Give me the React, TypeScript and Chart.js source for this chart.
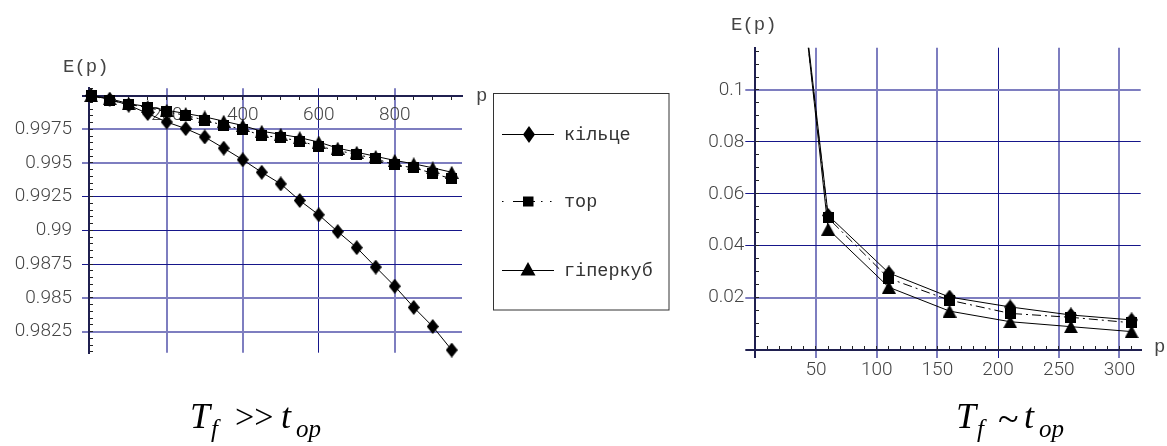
import React, { useEffect, useRef } from "react";
import { Chart, registerables } from "chart.js";
Chart.register(...registerables);

// ---------- data ----------
const SERIES_NAMES = ["кільце", "тор", "гіперкуб"];

// left chart: T_f >> t_op
const LEFT_P = [1, 50, 100, 150, 200, 250, 300, 350, 400, 450, 500, 550, 600, 650, 700, 750, 800, 850, 900, 950];
const LEFT_RING = [1.0, 0.99972, 0.99929, 0.99867, 0.99804, 0.99755, 0.99693, 0.9961, 0.99524, 0.99431, 0.99345, 0.99222, 0.99116, 0.98991, 0.98872, 0.98728, 0.98586, 0.98429, 0.98287, 0.98113];
const LEFT_TORUS = [1.0, 0.99966, 0.99934, 0.99912, 0.99879, 0.99854, 0.99817, 0.9978, 0.9975, 0.99705, 0.99688, 0.99663, 0.99623, 0.99593, 0.99563, 0.99531, 0.99487, 0.99464, 0.99424, 0.99382];
const LEFT_HYPER = [1.0, 0.99977, 0.9994, 0.99918, 0.99891, 0.99867, 0.99842, 0.9981, 0.99778, 0.99735, 0.99713, 0.99688, 0.99655, 0.9961, 0.9958, 0.99549, 0.99519, 0.99494, 0.99464, 0.99431];

// right chart: T_f ~ t_op
const RIGHT_P = [10, 60, 110, 160, 210, 260, 310];
const RIGHT_RING = [0.255, 0.0517, 0.0295, 0.0202, 0.0164, 0.0133, 0.0114];
const RIGHT_TORUS = [0.252, 0.0507, 0.0274, 0.019, 0.0139, 0.0124, 0.0103];
const RIGHT_HYPER = [0.26, 0.0464, 0.024, 0.0148, 0.0107, 0.0088, 0.0069];

// ticks
const LEFT_X_TICKS = [200, 400, 600, 800];
const LEFT_X_LABELS = ["200", "400", "600", "800"];
const LEFT_Y_TICKS = [0.9825, 0.985, 0.9875, 0.99, 0.9925, 0.995, 0.9975, 1.0];
const LEFT_Y_LABELS = ["0.9825", "0.985", "0.9875", "0.99", "0.9925", "0.995", "0.9975", ""];
const RIGHT_X_TICKS = [0, 50, 100, 150, 200, 250, 300];
const RIGHT_X_LABELS = ["", "50", "100", "150", "200", "250", "300"];
const RIGHT_Y_TICKS = [0, 0.02, 0.04, 0.06, 0.08, 0.1];
const RIGHT_Y_LABELS = ["", "0.02", "0.04", "0.06", "0.08", "0.1"];

// ---------- styles ----------
const GRID_DARK = "#16168a";
const GRID_LIGHT = "#7e7ec0";
const AXIS = "#202050";
const TICK_COLOR = "#444";
const TICK_FONT = { family: "Roboto, 'Liberation Sans', sans-serif", size: 19, weight: "300" };
const LEFT_X_LIGHT = [200, 400, 800];
const LEFT_Y_LIGHT = [0.9975, 0.995, 0.985, 0.9825];
const RIGHT_X_LIGHT = [50, 100, 150, 250, 300];
const RIGHT_Y_LIGHT = [0.1, 0.02];

const near = (arr: number[], v: number) => arr.some((a) => Math.abs(a - v) < 1e-9);

function gridStyle(light: number[], axisVals: number[], tickLength: number) {
  const col = (c: any) => {
    const v = c.tick ? c.tick.value : NaN;
    if (near(axisVals, v)) return AXIS;
    return near(light, v) ? GRID_LIGHT : GRID_DARK;
  };
  const wid = (c: any) => {
    const v = c.tick ? c.tick.value : NaN;
    if (near(axisVals, v)) return 2;
    return near(light, v) ? 2 : 1;
  };
  return { color: col, lineWidth: wid, tickColor: col, tickWidth: wid, tickLength, drawTicks: true };
}

function makeMarker(kind: string): HTMLCanvasElement {
  const dims: any = { diamond: [12, 15], square: [11, 11], triangle: [14, 13] };
  const [w, h] = dims[kind];
  const c = document.createElement("canvas");
  c.width = w;
  c.height = h;
  const g = c.getContext("2d")!;
  g.fillStyle = "#000";
  g.beginPath();
  if (kind === "diamond") {
    g.moveTo(w / 2, 0);
    g.lineTo(w, h / 2);
    g.lineTo(w / 2, h);
    g.lineTo(0, h / 2);
  } else if (kind === "square") {
    g.rect(0, 0, w, h);
  } else {
    g.moveTo(w / 2, 0);
    g.lineTo(w, h);
    g.lineTo(0, h);
  }
  g.closePath();
  g.fill();
  return c;
}

function ds(label: string, xs: number[], ys: number[], marker: HTMLCanvasElement, dash: number[], clip: any, order: number) {
  return {
    label,
    data: xs.map((x, i) => ({ x, y: ys[i] })),
    borderColor: "#000",
    borderWidth: 1,
    borderDash: dash,
    pointStyle: marker,
    pointRadius: 6,
    pointHoverRadius: 6,
    backgroundColor: "#000",
    tension: 0,
    fill: false,
    clip,
    order,
  };
}

const fixedTicks = (vals: number[]) => (s: any) => {
  s.ticks = vals.map((v) => ({ value: v }));
};

function minorScale(axis: string, min: number, max: number, pos: any, step: number, tl: number) {
  return {
    type: "linear",
    axis,
    min,
    max,
    position: pos,
    ticks: { display: false, stepSize: step, includeBounds: false },
    grid: { display: true, drawOnChartArea: false, drawTicks: true, tickLength: tl, tickColor: "#222", tickWidth: 1 },
    border: { display: false },
  };
}

const LX_MIN = -4.5, LX_MAX = 977, LY_MIN = 0.98093, LY_MAX = 1.00054;
const RX_MIN = 0, RX_MAX = 317.5, RY_MIN = 0, RY_MAX = 0.1163;

export default function App() {
  const leftRef = useRef<HTMLCanvasElement>(null);
  const rightRef = useRef<HTMLCanvasElement>(null);

  useEffect(() => {
    const diamond = makeMarker("diamond");
    const square = makeMarker("square");
    const triangle = makeMarker("triangle");
    const common = {
      animation: false,
      responsive: false,
      maintainAspectRatio: false,
      events: [],
      plugins: { legend: { display: false }, tooltip: { enabled: false } },
    };

    const left = new Chart(leftRef.current!, {
      type: "line",
      data: {
        datasets: [
          ds(SERIES_NAMES[0], LEFT_P, LEFT_RING, diamond, [], false, 0),
          ds(SERIES_NAMES[1], LEFT_P, LEFT_TORUS, square, [9, 4, 2, 4], false, 1),
          ds(SERIES_NAMES[2], LEFT_P, LEFT_HYPER, triangle, [], false, 2),
        ],
      },
      options: {
        ...common,
        layout: { padding: { left: 0, top: 88.3, right: 18, bottom: 27.3 } },
        scales: {
          x: {
            type: "linear",
            min: LX_MIN,
            max: LX_MAX,
            position: { y: 1 },
            afterBuildTicks: fixedTicks(LEFT_X_TICKS),
            ticks: {
              callback: (_v: any, i: number) => LEFT_X_LABELS[i],
              font: TICK_FONT,
              color: TICK_COLOR,
              padding: 4.5,
              autoSkip: false,
              maxRotation: 0,
            },
            grid: gridStyle(LEFT_X_LIGHT, [], 4),
            border: { display: true, color: AXIS, width: 2 },
          },
          x2: minorScale("x", LX_MIN, LX_MAX, { y: 1 }, 50, 4),
          y: {
            type: "linear",
            min: LY_MIN,
            max: LY_MAX,
            position: "left",
            afterFit: (s: any) => {
              s.width = 89;
            },
            afterBuildTicks: fixedTicks(LEFT_Y_TICKS),
            ticks: {
              callback: (_v: any, i: number) => LEFT_Y_LABELS[i],
              font: TICK_FONT,
              color: TICK_COLOR,
              padding: 10,
              autoSkip: false,
            },
            grid: gridStyle(LEFT_Y_LIGHT, [1.0], 7),
            border: { display: true, color: AXIS, width: 2 },
          },
          y2: minorScale("y", LY_MIN, LY_MAX, { x: LX_MIN }, 0.0005, -4),
        },
      } as any,
    } as any);

    const right = new Chart(rightRef.current!, {
      type: "line",
      data: {
        datasets: [
          ds(SERIES_NAMES[0], RIGHT_P, RIGHT_RING, diamond, [], undefined, 1),
          ds(SERIES_NAMES[1], RIGHT_P, RIGHT_TORUS, square, [9, 4, 2, 4], undefined, 0),
          ds(SERIES_NAMES[2], RIGHT_P, RIGHT_HYPER, triangle, [], undefined, 2),
        ],
      },
      options: {
        ...common,
        layout: { padding: { left: 0, top: 47.7, right: 26.3, bottom: 50.5 } },
        scales: {
          x: {
            type: "linear",
            min: RX_MIN,
            max: RX_MAX,
            position: { y: 0 },
            afterBuildTicks: fixedTicks(RIGHT_X_TICKS),
            ticks: {
              callback: (_v: any, i: number) => RIGHT_X_LABELS[i],
              font: TICK_FONT,
              color: TICK_COLOR,
              padding: 2,
              autoSkip: false,
              maxRotation: 0,
            },
            grid: gridStyle(RIGHT_X_LIGHT, [0], 7),
            border: { display: true, color: AXIS, width: 2 },
          },
          x2: minorScale("x", RX_MIN, RX_MAX, { y: 0 }, 10, -4),
          y: {
            type: "linear",
            min: RY_MIN,
            max: RY_MAX,
            position: "left",
            afterFit: (s: any) => {
              s.width = 55.3;
            },
            afterBuildTicks: fixedTicks(RIGHT_Y_TICKS),
            ticks: {
              callback: (_v: any, i: number) => RIGHT_Y_LABELS[i],
              font: TICK_FONT,
              color: TICK_COLOR,
              padding: 1,
              autoSkip: false,
            },
            grid: gridStyle(RIGHT_Y_LIGHT, [0], 10),
            border: { display: true, color: AXIS, width: 2 },
          },
          y2: minorScale("y", RY_MIN, RY_MAX, { x: 0 }, 0.005, -4),
        },
      } as any,
    } as any);

    return () => {
      left.destroy();
      right.destroy();
    };
  }, []);

  const mono = "'Liberation Mono', 'DejaVu Sans Mono', monospace";
  const serif = "'Liberation Serif', 'DejaVu Serif', serif";

  return (
    <div style={{ position: "absolute", left: 0, top: 0, width: 1167, height: 446, background: "#fff", overflow: "hidden" }}>
      <canvas ref={leftRef} width={480} height={380} style={{ position: "absolute", left: 0, top: 0 }} />
      <canvas ref={rightRef} width={467} height={400} style={{ position: "absolute", left: 700, top: 0 }} />
      <svg width={1167} height={446} style={{ position: "absolute", left: 0, top: 0, pointerEvents: "none" }}>
        {/* axis names */}
        <text x={63} y={72} fontFamily={mono} fontSize={19} fill="#444">E(p)</text>
        <text x={476} y={101} fontFamily={mono} fontSize={19} fill="#444">p</text>
        <text x={731} y={30} fontFamily={mono} fontSize={19} fill="#444">E(p)</text>
        <text x={1154} y={352} fontFamily={mono} fontSize={19} fill="#444">p</text>

        {/* legend */}
        <rect x={493.5} y={93.5} width={175.5} height={216.5} fill="#fff" stroke="#333" strokeWidth={1} />
        <line x1={502} y1={134.5} x2={554} y2={134.5} stroke="#000" strokeWidth={1} />
        <polygon points="529,126 535,134.5 529,143 523,134.5" fill="#000" />
        <text x={564} y={139.5} fontFamily={mono} fontSize={18.5} fill="#333">{SERIES_NAMES[0]}</text>

        <rect x={502} y={201} width={1.5} height={1} fill="#000" />
        <line x1={513} y1={201.5} x2={535} y2={201.5} stroke="#000" strokeWidth={1} />
        <rect x={541} y={201} width={1.5} height={1} fill="#000" />
        <rect x={550} y={201} width={1.5} height={1} fill="#000" />
        <rect x={523} y={196.5} width={10.5} height={10} fill="#000" />
        <text x={564} y={206.5} fontFamily={mono} fontSize={18.5} fill="#333">{SERIES_NAMES[1]}</text>

        <line x1={502} y1={270.5} x2={554} y2={270.5} stroke="#000" strokeWidth={1} />
        <polygon points="528,262 535.5,275.5 520.5,275.5" fill="#000" />
        <text x={564} y={276} fontFamily={mono} fontSize={18.5} fill="#333">{SERIES_NAMES[2]}</text>

        {/* captions */}
        <text fontFamily={serif} fill="#000" fontSize={36} fontStyle="italic" x={190} y={428}>T</text>
        <text fontFamily={serif} fill="#000" fontSize={25} fontStyle="italic" x={211} y={437}>f</text>
        <text fontFamily={serif} fill="#000" fontSize={34} x={235} y={428}>{">>"}</text>
        <text fontFamily={serif} fill="#000" fontSize={36} fontStyle="italic" x={281} y={428}>t</text>
        <text fontFamily={serif} fill="#000" fontSize={25} fontStyle="italic" x={296} y={437}>op</text>

        <text fontFamily={serif} fill="#000" fontSize={36} fontStyle="italic" x={956} y={428}>T</text>
        <text fontFamily={serif} fill="#000" fontSize={25} fontStyle="italic" x={977} y={437}>f</text>
        <text fontFamily={serif} fill="#000" fontSize={38} x={998} y={431}>~</text>
        <text fontFamily={serif} fill="#000" fontSize={36} fontStyle="italic" x={1024} y={428}>t</text>
        <text fontFamily={serif} fill="#000" fontSize={25} fontStyle="italic" x={1039} y={437}>op</text>
      </svg>
    </div>
  );
}
